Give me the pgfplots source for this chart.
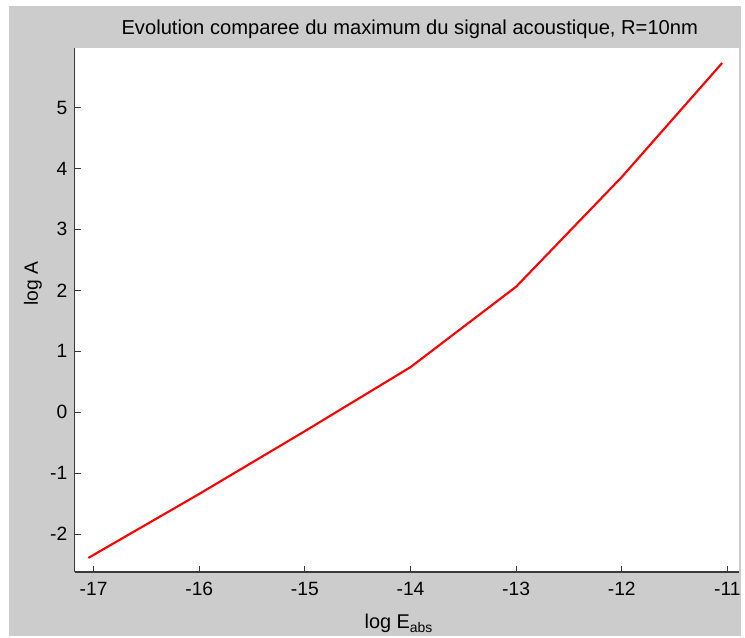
\documentclass[border=0pt]{standalone}
\usepackage{pgfplots}
\pgfplotsset{compat=1.18}
\usepackage{fontspec}
\setmainfont{Liberation Sans}
\definecolor{figgray}{HTML}{CCCCCC}
\definecolor{axcol}{HTML}{3A3A3A}
\begin{document}
\begin{tikzpicture}[x=0.75pt,y=0.75pt]
\fill[white] (0,0) rectangle (745,639);
\fill[figgray] (9,0) rectangle (745,633);
\begin{axis}[
  at={(75*0.75pt,64*0.75pt)}, anchor=south west,
  width=668*0.75pt, height=527*0.75pt, scale only axis,
  xmin=-17.18, xmax=-10.89, ymin=-2.62, ymax=5.98,
  xtick={-17,-16,-15,-14,-13,-12,-11},
  ytick={-2,-1,0,1,2,3,4,5},
  axis background/.style={fill=white},
  axis x line*=bottom, axis y line*=left,
  axis line style={axcol, line width=1.1pt, -},
  tick style={axcol, line width=0.8pt},
  tick align=inside,
  major tick length=4.5pt,
  x tick label style={font=\fontsize{14.5}{15}\selectfont, yshift=-4.5pt},
  y tick label style={font=\fontsize{14.5}{15}\selectfont, xshift=-2pt},
  /pgf/number format/assume math mode=true,
  clip=false,
]
\addplot[red, line width=1.6pt] coordinates {
(-17.05,-2.39) (-16,-1.34) (-15,-0.31) (-14,0.74) (-13,2.06) (-12,3.86) (-11.05,5.73)
};
\end{axis}
\node[font=\fontsize{15.2}{16}\selectfont] at (412,610) {Evolution comparee du maximum du signal acoustique, R=10nm};
\node[font=\fontsize{15}{16}\selectfont] at (401,12) {log E\textsubscript{abs}};
\node[font=\fontsize{14.5}{15}\selectfont, rotate=90] at (33,354) {log A};
\end{tikzpicture}
\end{document}
